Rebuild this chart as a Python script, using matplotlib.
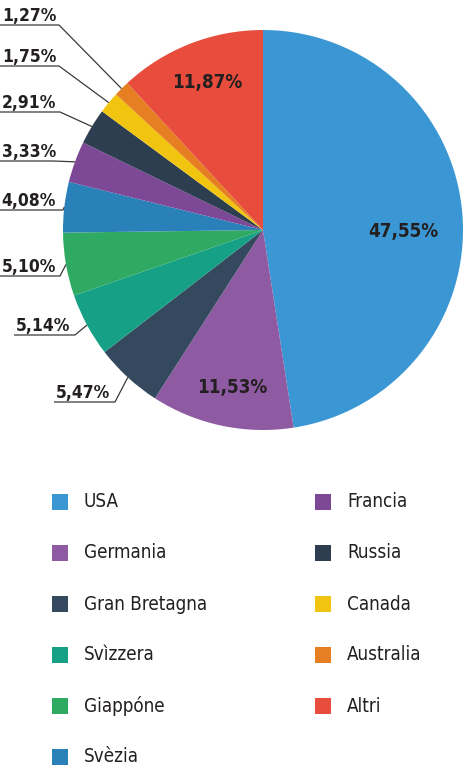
"""Pie chart: quota per paese"""
import numpy as np
import matplotlib
matplotlib.use("Agg")
import matplotlib.pyplot as plt

countries = ["USA", "Germania", "Gran Bretagna", "Svìzzera", "Giappóne", "Svèzia",
             "Francia", "Russia", "Canada", "Australia", "Altri"]
shares = [47.55, 11.53, 5.47, 5.14, 5.10, 4.08, 3.33, 2.91, 1.75, 1.27, 11.87]
colors = ["#3a97d4", "#8e5ba3", "#34495e", "#16a085", "#2eaa62", "#2a80b9",
          "#7d4896", "#2c3e50", "#f1c40f", "#e67e22", "#e74c3c"]

# slices labelled inside the pie: index -> (radius fraction, angle tweak in deg)
inner = {0: (0.70, -5.0), 1: (0.80, 1.0), 10: (0.79, -0.7)}
# slices with leader lines: index -> (text x, line y, elbow x) in pixels
outer = {9: (2, 25, 59), 8: (2, 66, 59), 7: (2, 112, 60), 6: (2, 161, 53),
         5: (1, 210, 63), 4: (2, 276, 60), 3: (16, 335, 75), 2: (56, 402, 115)}

W, H = 464, 770
cx, cy, R = 263, 230, 200
plt.rcParams["font.family"] = ["DejaVu Sans"]
plt.rcParams["font.stretch"] = "condensed"

fig = plt.figure(figsize=(W / 100, H / 100), dpi=100)
ax = fig.add_axes([0, 0, 1, 1])


def fy(y):
    return H - y


wedges, _ = ax.pie(shares, colors=colors, startangle=90, counterclock=False,
                   center=(cx, fy(cy)), radius=R, frame=True,
                   wedgeprops=dict(linewidth=0))
ax.set_xlim(0, W)
ax.set_ylim(0, H)
ax.set_aspect("equal")
ax.axis("off")


def fmt(v):
    return f"{v:.2f}%".replace(".", ",")


cum = np.cumsum([0] + shares[:-1])
for i, v in enumerate(shares):
    mid = np.deg2rad(90 - (cum[i] + v / 2) * 3.6)
    if i in inner:
        frac, tweak = inner[i]
        a = mid + np.deg2rad(tweak)
        ax.text(cx + frac * R * np.cos(a), fy(cy) + frac * R * np.sin(a), fmt(v),
                ha="center", va="center", fontsize=13.5, fontweight="bold",
                fontstretch="condensed", color="#231f20")
    elif i in outer:
        tx, ly, ex = outer[i]
        px, py = cx + R * np.cos(mid), fy(cy) + R * np.sin(mid)
        ax.plot([tx - 2, ex, px], [fy(ly), fy(ly), py], color="#3a3a3a",
                lw=0.9, solid_capstyle="butt")
        ax.text(tx, fy(ly) + 4, fmt(v), ha="left", va="baseline",
                fontsize=12.5, fontweight="bold", fontstretch="condensed",
                color="#231f20")

# legend, two columns, filled column-wise
for i, (name, c) in enumerate(zip(countries, colors)):
    col, row = divmod(i, 6)
    x0 = [52, 315][col]
    y0 = 502 + row * 51
    ax.add_patch(plt.Rectangle((x0, fy(y0) - 8), 16, 16, color=c, lw=0))
    ax.text(x0 + 32, fy(y0), name, ha="left", va="center", fontsize=13.5,
            fontstretch="condensed", color="#231f20")

fig.savefig("out.png", dpi=100)
